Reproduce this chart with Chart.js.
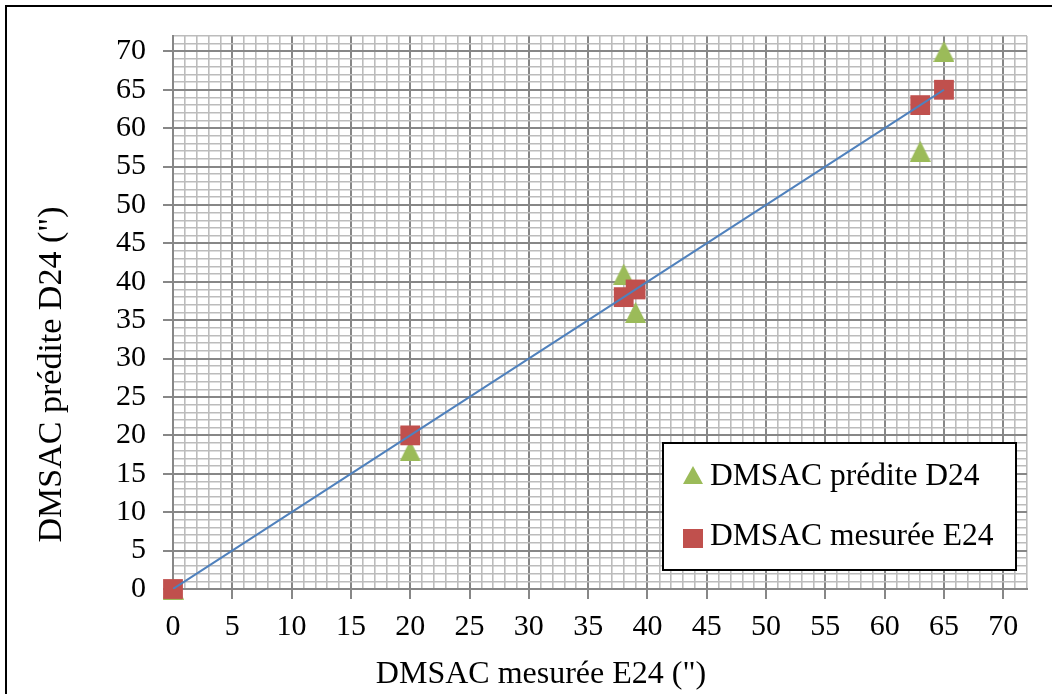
<!DOCTYPE html>
<html lang="fr">
<head>
<meta charset="utf-8">
<title>DMSAC prédite / mesurée</title>
<script src="https://cdn.jsdelivr.net/npm/chart.js@4/dist/chart.umd.min.js"></script>
<style>
  html, body { margin: 0; padding: 0; background: #fff; overflow: hidden; }
  #frame {
    position: absolute; left: 5px; top: 5px;
    width: 1200px; height: 900px;
    border-left: 2px solid #000; border-top: 2px solid #000;
  }
  #wrap { position: absolute; left: 0; top: 0; width: 1052px; height: 694px; }
</style>
</head>
<body>
<div id="frame"></div>
<div id="wrap"><canvas id="dmsacChart" width="1052" height="694"></canvas></div>
<script>
// DMSAC values, in seconds of arc
const xMesure = [0, 20, 38, 39, 63, 65];
const yPredite = [0, 18, 41, 36, 57, 70];
const yMesure = [0, 20, 38, 39, 63, 65];

const axisMin = 0;
const axisMax = 72;
const majorStep = 5;

const serieLabels = ["DMSAC prédite D24", "DMSAC mesurée E24"];
const xTitle = "DMSAC mesurée E24 (\")";
const yTitle = "DMSAC prédite D24 (\")";

const green = "#9BBB59";
const red = "#C0504D";
const blue = "#4F81BD";
const majorGrid = "#878787";
const minorGrid = "#bcbcbc";
const serif = "'Liberation Serif', 'Times New Roman', serif";

function toPoints(xs, ys) {
  return xs.map((x, i) => ({ x: x, y: ys[i] }));
}

// Excel-like triangle marker (as wide as it is tall)
function triangleMarker(color, w, h) {
  const c = document.createElement("canvas");
  c.width = w;
  c.height = h;
  const g = c.getContext("2d");
  g.fillStyle = color;
  g.beginPath();
  g.moveTo(w / 2, 0);
  g.lineTo(w, h);
  g.lineTo(0, h);
  g.closePath();
  g.fill();
  return c;
}

const isMajor = ctx => ctx.tick && ctx.tick.value % majorStep === 0;

function axisOptions(pad) {
  return {
    type: "linear",
    min: axisMin,
    max: axisMax,
    border: { display: true, color: majorGrid, width: 2 },
    grid: {
      color: ctx => isMajor(ctx) ? majorGrid : minorGrid,
      lineWidth: ctx => isMajor(ctx) ? 2 : 1.6,
      tickColor: ctx => isMajor(ctx) ? majorGrid : "rgba(0,0,0,0)",
      tickWidth: 2,
      tickLength: 10
    },
    ticks: {
      stepSize: 1,
      autoSkip: false,
      maxRotation: 0,
      padding: pad,
      color: "#000",
      font: { family: serif, size: 30 },
      callback: v => v % majorStep === 0 ? String(v) : ""
    }
  };
}

// axis titles and the boxed legend inside the plot
const decorations = {
  id: "decorations",
  afterDraw(chart) {
    const ctx = chart.ctx;
    const a = chart.chartArea;
    ctx.save();
    ctx.fillStyle = "#000";
    ctx.textAlign = "center";
    ctx.textBaseline = "alphabetic";
    ctx.font = "32px " + serif;
    ctx.fillText(xTitle, a.left + (a.right - a.left) / 2 - 59, 683);

    ctx.save();
    ctx.translate(61, a.top + (a.bottom - a.top) / 2 + 62);
    ctx.rotate(-Math.PI / 2);
    ctx.font = "34px " + serif;
    ctx.fillText(yTitle, 0, 0);
    ctx.restore();

    // legend
    const bx = a.right - 364, by = a.bottom - 146, bw = 353, bh = 127;
    ctx.fillStyle = "#fff";
    ctx.fillRect(bx, by, bw, bh);
    ctx.strokeStyle = "#000";
    ctx.lineWidth = 2;
    ctx.strokeRect(bx, by, bw, bh);

    ctx.fillStyle = green;
    ctx.beginPath();
    ctx.moveTo(bx + 30, by + 23);
    ctx.lineTo(bx + 40, by + 41);
    ctx.lineTo(bx + 20, by + 41);
    ctx.closePath();
    ctx.fill();

    ctx.fillStyle = red;
    ctx.fillRect(bx + 20, by + 86, 20, 19);

    ctx.fillStyle = "#000";
    ctx.textAlign = "left";
    ctx.font = "31.5px " + serif;
    ctx.fillText(serieLabels[0], bx + 47, by + 42);
    ctx.fillText(serieLabels[1], bx + 47, by + 102);
    ctx.restore();
  }
};

window.addEventListener("load", () => {
  const ctx = document.getElementById("dmsacChart").getContext("2d");
  const measured = toPoints(xMesure, yMesure);

  new Chart(ctx, {
    type: "scatter",
    data: {
      datasets: [
        {
          label: serieLabels[0],
          data: toPoints(xMesure, yPredite),
          pointStyle: triangleMarker(green, 21, 21),
          backgroundColor: green,
          clip: false,
          order: 2
        },
        {
          label: serieLabels[1],
          data: measured,
          pointStyle: "rect",
          pointRadius: 14,
          borderWidth: 0,
          backgroundColor: red,
          borderColor: red,
          clip: false,
          order: 1
        },
        {
          // linear trend of the measured series
          label: "Linéaire",
          data: measured.slice().sort((p, q) => p.x - q.x),
          showLine: true,
          pointRadius: 0,
          borderColor: blue,
          borderWidth: 2,
          order: 0
        }
      ]
    },
    options: {
      responsive: false,
      animation: false,
      layout: { padding: { top: 36, right: 25, left: 0, bottom: 0 } },
      plugins: {
        legend: { display: false },
        tooltip: { enabled: false }
      },
      scales: {
        x: Object.assign(axisOptions(10), {
          position: "bottom",
          afterFit: scale => { scale.height = 105; }
        }),
        y: Object.assign(axisOptions(17), {
          position: "left",
          afterFit: scale => { scale.width = 173; }
        })
      }
    },
    plugins: [decorations]
  });
});
</script>
</body>
</html>
